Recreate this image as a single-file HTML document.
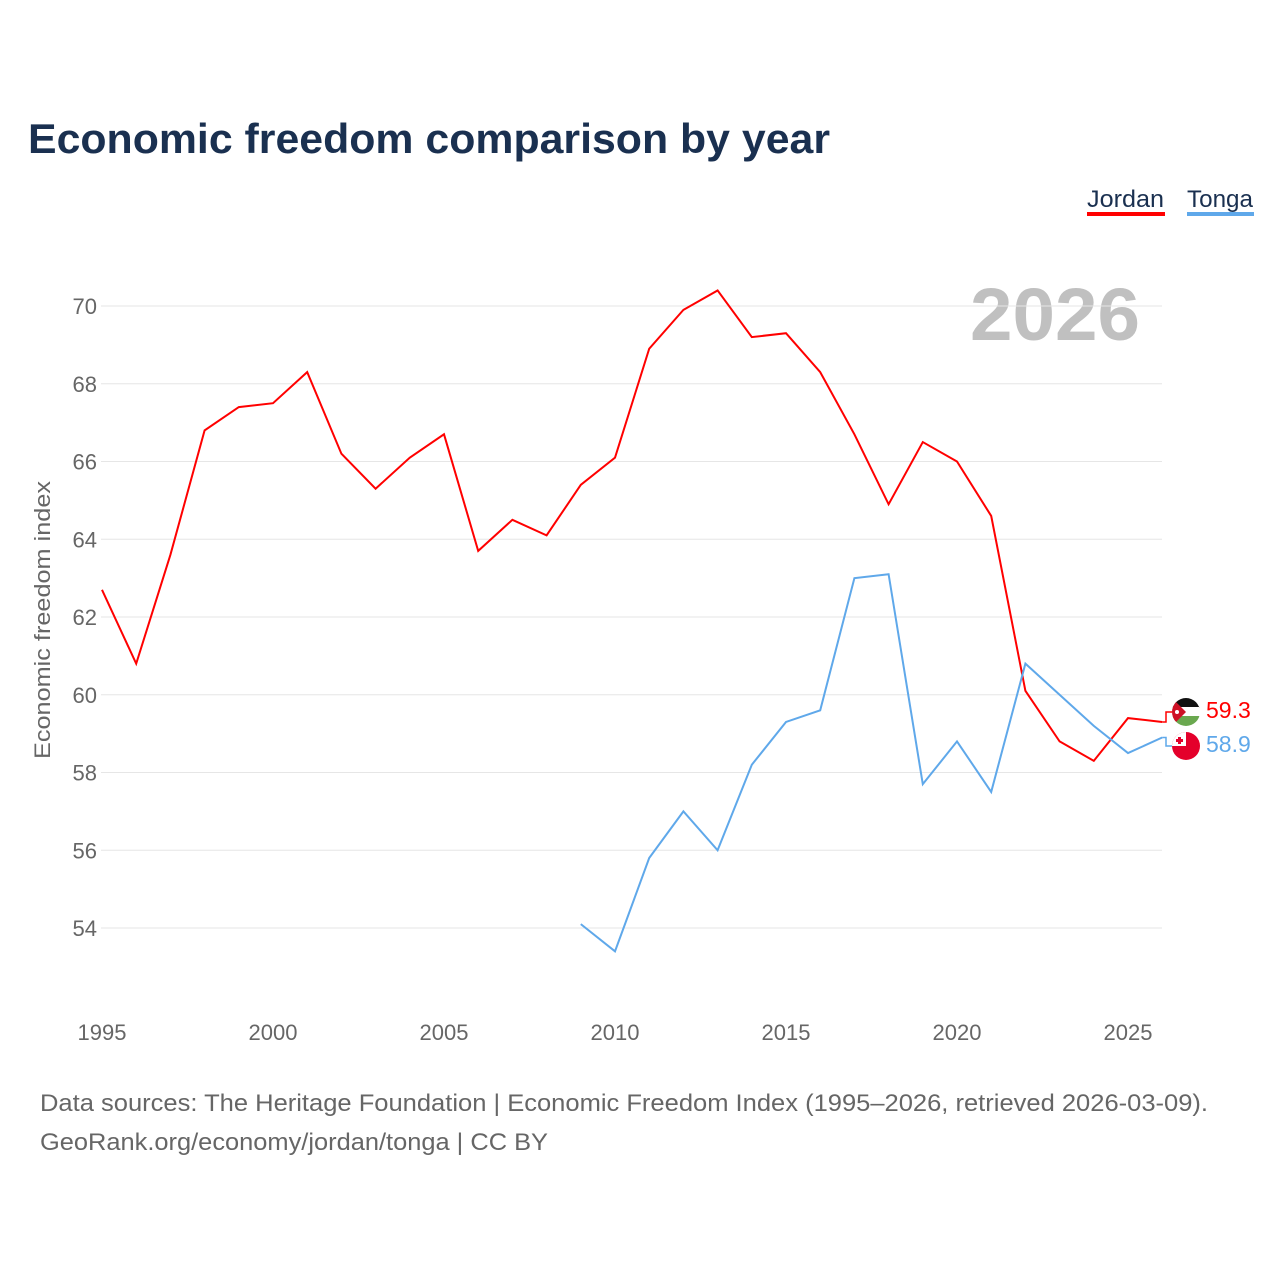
<!DOCTYPE html>
<html><head><meta charset="utf-8"><style>
html,body{margin:0;padding:0;background:#fff;width:1280px;height:1280px;overflow:hidden}
svg{display:block;font-family:"Liberation Sans",sans-serif}
</style></head><body>
<svg id="chart" width="1280" height="1280" viewBox="0 0 1280 1280">
<text x="28" y="153" font-size="42" font-weight="bold" fill="#1a3050" textLength="802" lengthAdjust="spacingAndGlyphs">Economic freedom comparison by year</text>
<g>
<text x="1087" y="207" font-size="24" fill="#1a3050" textLength="77" lengthAdjust="spacingAndGlyphs">Jordan</text>
<rect x="1087" y="212" width="78" height="4" fill="#ff0000"/>
<text x="1187" y="207" font-size="24" fill="#1a3050" textLength="66" lengthAdjust="spacingAndGlyphs">Tonga</text>
<rect x="1187" y="212" width="67" height="4" fill="#5fa8ea"/>
</g>
<text x="1140" y="340" text-anchor="end" font-size="74" font-weight="bold" fill="#c0c0c0" textLength="170" lengthAdjust="spacingAndGlyphs">2026</text>
<g id="grid"></g><g id="yticks"></g><g id="xticks"></g><g id="lines"></g>
<text transform="translate(50,620) rotate(-90)" text-anchor="middle" font-size="22" fill="#666" textLength="278" lengthAdjust="spacingAndGlyphs">Economic freedom index</text>
<g>
<g>
<clipPath id="cj"><circle cx="1186" cy="712" r="14"/></clipPath>
<g clip-path="url(#cj)"><rect x="1172" y="698" width="28" height="10" fill="#111"/><rect x="1172" y="707" width="28" height="10" fill="#fff"/><rect x="1172" y="716" width="28" height="10" fill="#6aa84f"/><polygon points="1172,698 1186,712 1172,726" fill="#ce1126"/><circle cx="1177" cy="712" r="2" fill="#fff"/></g>
</g>
<g>
<clipPath id="ct"><circle cx="1186" cy="746" r="14"/></clipPath>
<g clip-path="url(#ct)"><rect x="1172" y="732" width="28" height="28" fill="#e4002b"/><rect x="1172" y="732" width="14" height="14" fill="#fff"/><rect x="1178" y="737" width="3" height="7" fill="#e4002b"/><rect x="1176" y="739" width="7" height="3" fill="#e4002b"/></g>
</g>
<text id="jlab" x="1206" y="718" font-size="23" fill="#ff0000"></text>
<text id="tlab" x="1206" y="752" font-size="23" fill="#5fa8ea"></text>
</g>
<text x="40" y="1111" font-size="24" fill="#666" textLength="1168" lengthAdjust="spacingAndGlyphs">Data sources: The Heritage Foundation | Economic Freedom Index (1995–2026, retrieved 2026-03-09).</text>
<text x="40" y="1150" font-size="24" fill="#666" textLength="508" lengthAdjust="spacingAndGlyphs">GeoRank.org/economy/jordan/tonga | CC BY</text>
</svg>
<script>
const years = [1995,1996,1997,1998,1999,2000,2001,2002,2003,2004,2005,2006,2007,2008,2009,2010,2011,2012,2013,2014,2015,2016,2017,2018,2019,2020,2021,2022,2023,2024,2025,2026];
const jordan = [62.7,60.8,63.6,66.8,67.4,67.5,68.3,66.2,65.3,66.1,66.7,63.7,64.5,64.1,65.4,66.1,68.9,69.9,70.4,69.2,69.3,68.3,66.7,64.9,66.5,66.0,64.6,60.1,58.8,58.3,59.4,59.3];
const tongaYears = [2009,2010,2011,2012,2013,2014,2015,2016,2017,2018,2019,2020,2021,2022,2023,2024,2025,2026];
const tonga = [54.1,53.4,55.8,57.0,56.0,58.2,59.3,59.6,63.0,63.1,57.7,58.8,57.5,60.8,60.0,59.2,58.5,58.9];
const yTicks = [54,56,58,60,62,64,66,68,70];
const xTicks = [1995,2000,2005,2010,2015,2020,2025];
const NS="http://www.w3.org/2000/svg";
const x = v => 102 + (v-1995)*34.2;
const y = v => 306 + (70-v)*38.875;
function mk(tag, attrs, parent){const e=document.createElementNS(NS,tag);for(const k in attrs)e.setAttribute(k,attrs[k]);document.getElementById(parent).appendChild(e);return e;}
yTicks.forEach(t=>{
  const l=mk('line',{x1:101,x2:1162,y1:y(t),y2:y(t),stroke:'#e6e6e6','stroke-width':1},'grid');
  
  
  const tx=mk('text',{x:97,y:y(t)+8,'text-anchor':'end','font-size':22,fill:'#666'},'yticks');
  tx.textContent=t;
  
  
});
xTicks.forEach(t=>{
  const tx=mk('text',{x:x(t),y:1040,'text-anchor':'middle','font-size':22,fill:'#666'},'xticks');
  tx.textContent=t;
  
  
});
const jp=mk('polyline',{points:years.map((yr,i)=>x(yr)+','+y(jordan[i])).join(' '),fill:'none',stroke:'#ff0000','stroke-width':2},'lines');


const tp=mk('polyline',{points:tongaYears.map((yr,i)=>x(yr)+','+y(tonga[i])).join(' '),fill:'none',stroke:'#5fa8ea','stroke-width':2},'lines');


const jl=jordan[jordan.length-1], tl=tonga[tonga.length-1];
const c1=mk('polyline',{points:`${x(2026)},${y(jl)} 1166,${y(jl)} 1166,712 1172,712`,fill:'none',stroke:'#ff0000','stroke-width':1.5},'lines');


const c2=mk('polyline',{points:`${x(2026)},${y(tl)} 1166,${y(tl)} 1166,746 1172,746`,fill:'none',stroke:'#5fa8ea','stroke-width':1.5},'lines');


document.getElementById('jlab').textContent=jl.toFixed(1);
document.getElementById('tlab').textContent=tl.toFixed(1);
</script>
</body></html>
